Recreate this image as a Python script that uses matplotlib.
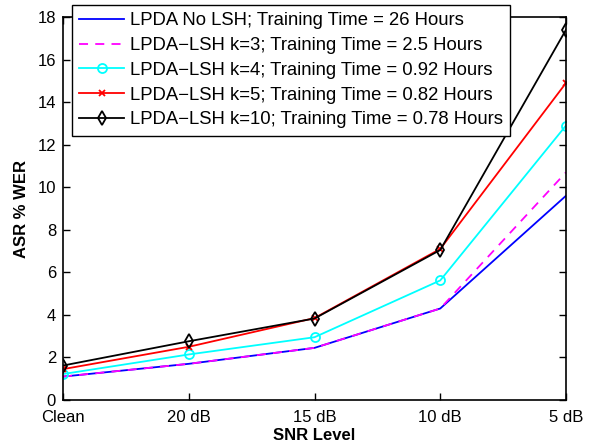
import matplotlib
matplotlib.use('Agg')
import matplotlib.pyplot as plt

# SNR levels on the x axis
snr_levels = ['Clean', '20 dB', '15 dB', '10 dB', '5 dB']

# ASR % WER for each system
wer_no_lsh = [1.1, 1.7, 2.45, 4.3, 9.6]
wer_k3 = [1.1, 1.7, 2.45, 4.3, 10.7]
wer_k4 = [1.22, 2.14, 2.95, 5.62, 12.9]
wer_k5 = [1.45, 2.5, 3.85, 7.1, 14.9]
wer_k10 = [1.62, 2.76, 3.83, 7.05, 17.4]

labels = ['LPDA No LSH; Training Time = 26 Hours',
          'LPDA\u2212LSH k=3; Training Time = 2.5 Hours',
          'LPDA\u2212LSH k=4; Training Time = 0.92 Hours',
          'LPDA\u2212LSH k=5; Training Time = 0.82 Hours',
          'LPDA\u2212LSH k=10; Training Time = 0.78 Hours']

plt.rcParams['font.family'] = ['Liberation Sans', 'DejaVu Sans']

fig = plt.figure(figsize=(5.93, 4.44), dpi=100)
ax = fig.add_axes([63/593, 1 - 400/444, (566-63)/593, (400-17)/444])

x = list(range(len(snr_levels)))
ax.plot(x, wer_no_lsh, '-', color='#0000ff', lw=1.3, label=labels[0])
ax.plot(x, wer_k3, '--', color='#ff00ff', lw=1.3, dashes=(5, 4), label=labels[1])
ax.plot(x, wer_k4, '-o', color='#00ffff', lw=1.3, ms=6.5, mfc='none', mew=1.3, label=labels[2])
ax.plot(x, wer_k5, '-x', color='#ff0000', lw=1.3, ms=5, mew=1.3, label=labels[3])
ax.plot(x, wer_k10, '-d', color='black', lw=1.3, ms=7, mfc='none', mew=1.3, label=labels[4])

ax.set_xlim(0, 4)
ax.set_ylim(0, 18)
ax.set_xticks(x)
ax.set_xticklabels(snr_levels)
ax.set_yticks(range(0, 19, 2))
ax.tick_params(direction='in', top=True, right=True, labelsize=12, length=5, width=1, pad=5)
ax.tick_params(axis='x', pad=7)
for s in ax.spines.values():
    s.set_linewidth(1.2)

ax.set_xlabel('SNR Level', fontsize=12, fontweight='bold', labelpad=2)
ax.set_ylabel('ASR % WER', fontsize=12, fontweight='bold', labelpad=6)

leg = ax.legend(loc='upper left', bbox_to_anchor=(9/503, 1 + 12/383), fontsize=13.3,
                numpoints=1, handlelength=2.4, handletextpad=0.33, borderpad=0.4,
                labelspacing=0.42, borderaxespad=0,
                fancybox=False, framealpha=1, edgecolor='black')
leg.get_frame().set_linewidth(1.0)

fig.savefig('out.png', dpi=100)
